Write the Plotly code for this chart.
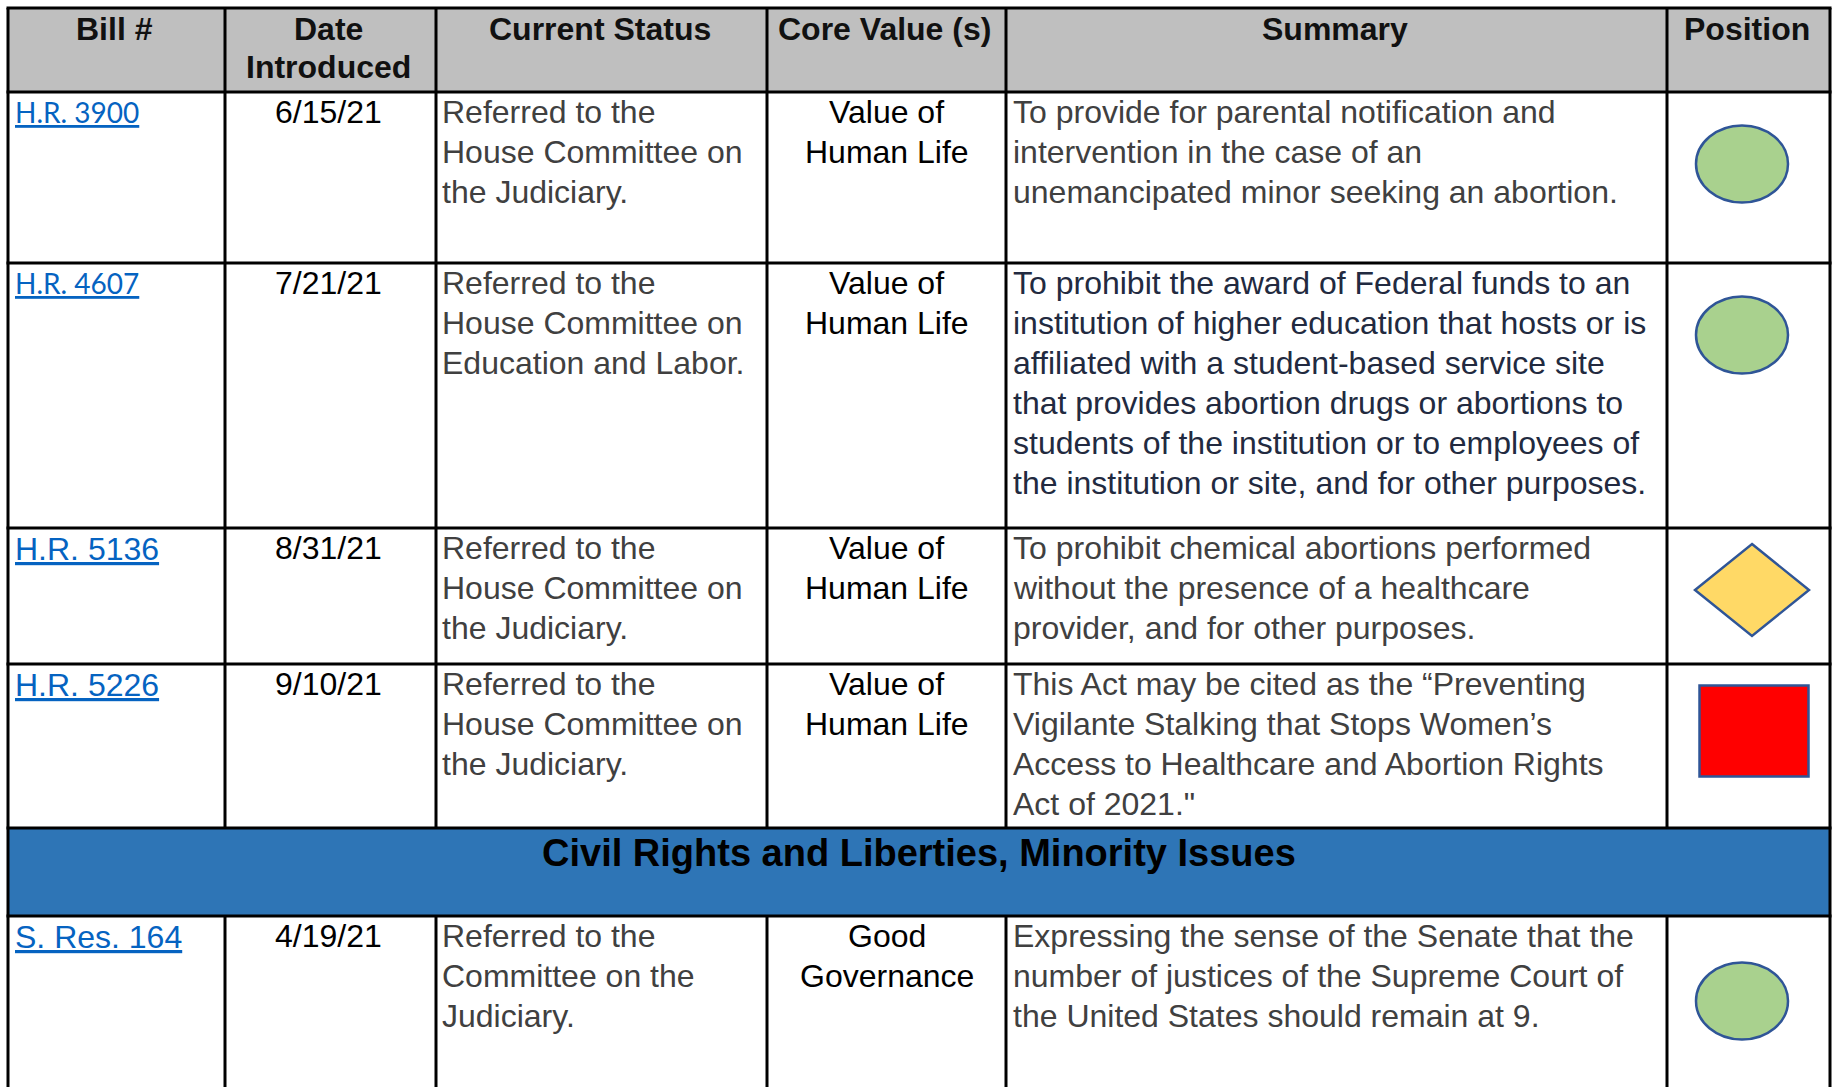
import plotly.graph_objects as go

# ---------------- data ----------------
headers = [["Bill #"], ["Date", "Introduced"], ["Current Status"], ["Core Value (s)"], ["Summary"], ["Position"]]
bills = ["H.R. 3900", "H.R. 4607", "H.R. 5136", "H.R. 5226", "S. Res. 164"]
dates = ["6/15/21", "7/21/21", "8/31/21", "9/10/21", "4/19/21"]
status = [
    ["Referred to the", "House Committee on", "the Judiciary."],
    ["Referred to the", "House Committee on", "Education and Labor."],
    ["Referred to the", "House Committee on", "the Judiciary."],
    ["Referred to the", "House Committee on", "the Judiciary."],
    ["Referred to the", "Committee on the", "Judiciary."],
]
core_values = [
    ["Value of", "Human Life"],
    ["Value of", "Human Life"],
    ["Value of", "Human Life"],
    ["Value of", "Human Life"],
    ["Good", "Governance"],
]
summaries = [
    ["To provide for parental notification and", "intervention in the case of an",
     "unemancipated minor seeking an abortion."],
    ["To prohibit the award of Federal funds to an", "institution of higher education that hosts or is",
     "affiliated with a student-based service site", "that provides abortion drugs or abortions to",
     "students of the institution or to employees of", "the institution or site, and for other purposes."],
    ["To prohibit chemical abortions performed", "without the presence of a healthcare",
     "provider, and for other purposes."],
    ["This Act may be cited as the \u201cPreventing", "Vigilante Stalking that Stops Women\u2019s",
     "Access to Healthcare and Abortion Rights", "Act of 2021.\""],
    ["Expressing the sense of the Senate that the", "number of justices of the Supreme Court of",
     "the United States should remain at 9."],
]
positions = ["Support", "Support", "Neutral", "Oppose", "Support"]
section_title = "Civil Rights and Liberties, Minority Issues"

# ---------------- layout / style ----------------
W, H = 1836, 1087
COLS = [8, 225, 436, 767, 1006, 1667, 1830]
# row edges: header, r1, r2, r3, r4, band, r5, bottom
ROWS = [8, 92, 263, 528, 664, 828, 916, 1100]
BILL_ROW_TOPS = [92, 263, 528, 664, 916]
MARK_CY = [164, 335, 590, 731, 1001]
LINE_H = 40
FONT = "Liberation Sans, Arial, sans-serif"
LINK_FONTS = ["Lato, sans-serif", "Lato, sans-serif", FONT, FONT, FONT]
LINK_SIZES = [28, 28, 32, 32, 32]
SUMMARY_COLORS = ["#404040", "#222a40", "#404040", "#404040", "#404040"]
MARK_STYLE = {
    "Support": dict(kind="ellipse", cx=1742, w=92, h=77, fill="#A9D18E"),
    "Neutral": dict(kind="diamond", cx=1752, w=114, h=92, fill="#FFD966"),
    "Oppose": dict(kind="rect", cx=1754, w=109, h=91, fill="#FF0000"),
}
EDGE = "#2F5597"

fig = go.Figure()
fig.add_trace(go.Scatter(x=[0, W], y=[0, H], mode="markers", marker=dict(opacity=0),
                         hoverinfo="skip", showlegend=False))

shapes = []
annotations = []

# backgrounds
shapes.append(dict(type="rect", x0=COLS[0], x1=COLS[-1], y0=ROWS[0], y1=ROWS[1],
                   fillcolor="#BFBFBF", line=dict(width=0), layer="below"))
shapes.append(dict(type="rect", x0=COLS[0], x1=COLS[-1], y0=ROWS[5], y1=ROWS[6],
                   fillcolor="#2E75B6", line=dict(width=0), layer="below"))

# borders
BL = dict(color="black", width=3)
for y in ROWS[:-1]:
    shapes.append(dict(type="line", x0=COLS[0] - 1.5, x1=COLS[-1] + 1.5, y0=y, y1=y, line=BL))
for i, x in enumerate(COLS):
    if i in (0, len(COLS) - 1):
        shapes.append(dict(type="line", x0=x, x1=x, y0=ROWS[0], y1=ROWS[-1], line=BL))
    else:
        shapes.append(dict(type="line", x0=x, x1=x, y0=ROWS[0], y1=ROWS[5], line=BL))
        shapes.append(dict(type="line", x0=x, x1=x, y0=ROWS[6], y1=ROWS[-1], line=BL))


def add_text(x, y, text, size=32, color="black", xanchor="left", bold=False, family=FONT):
    annotations.append(dict(
        x=x, y=y, xref="x", yref="y", text=("<b>%s</b>" % text) if bold else text,
        showarrow=False, xanchor=xanchor, yanchor="top", align=xanchor,
        font=dict(family=family, size=size, color=color)))


# header
for c, lines in enumerate(headers):
    cx = (COLS[c] + COLS[c + 1]) / 2 - 2
    for i, ln in enumerate(lines):
        add_text(cx, ROWS[0] + 1 + i * 38, ln, size=32, color="#111111", xanchor="center", bold=True)

# section band
add_text((COLS[0] + COLS[-1]) / 2, ROWS[5] + 2, section_title, size=38, color="black",
         xanchor="center", bold=True)

# bill rows
for r in range(len(bills)):
    top = BILL_ROW_TOPS[r]
    add_text(COLS[0] + 5, top + 1, "<u>%s</u>" % bills[r], size=LINK_SIZES[r], color="#0563C1",
             family=LINK_FONTS[r])
    add_text((COLS[1] + COLS[2]) / 2 - 2, top, dates[r], xanchor="center")
    for i, ln in enumerate(status[r]):
        add_text(COLS[2] + 4, top + i * LINE_H, ln, color="#404040")
    for i, ln in enumerate(core_values[r]):
        add_text((COLS[3] + COLS[4]) / 2, top + i * LINE_H, ln, xanchor="center")
    for i, ln in enumerate(summaries[r]):
        add_text(COLS[4] + 5, top + i * LINE_H, ln, color=SUMMARY_COLORS[r])

    st = MARK_STYLE[positions[r]]
    cx, cy, w, h = st["cx"], MARK_CY[r], st["w"], st["h"]
    if st["kind"] == "ellipse":
        shapes.append(dict(type="circle", x0=cx - w / 2, x1=cx + w / 2, y0=cy - h / 2, y1=cy + h / 2,
                           fillcolor=st["fill"], line=dict(color=EDGE, width=2.5)))
    elif st["kind"] == "diamond":
        path = "M %f %f L %f %f L %f %f L %f %f Z" % (cx, cy - h / 2, cx + w / 2, cy, cx, cy + h / 2, cx - w / 2, cy)
        shapes.append(dict(type="path", path=path, fillcolor=st["fill"], line=dict(color=EDGE, width=2.5)))
    else:
        shapes.append(dict(type="rect", x0=cx - w / 2, x1=cx + w / 2, y0=cy - h / 2, y1=cy + h / 2,
                           fillcolor=st["fill"], line=dict(color=EDGE, width=2.5)))

fig.update_layout(
    width=W, height=H, margin=dict(l=0, r=0, t=0, b=0),
    paper_bgcolor="white", plot_bgcolor="white",
    xaxis=dict(range=[0, W], visible=False, fixedrange=True),
    yaxis=dict(range=[H, 0], visible=False, fixedrange=True),
    shapes=shapes, annotations=annotations, showlegend=False,
)

fig.write_html("out.html", config={"displayModeBar": False, "staticPlot": True},
               post_script="document.body.style.margin='0';document.body.style.overflow='hidden';")
